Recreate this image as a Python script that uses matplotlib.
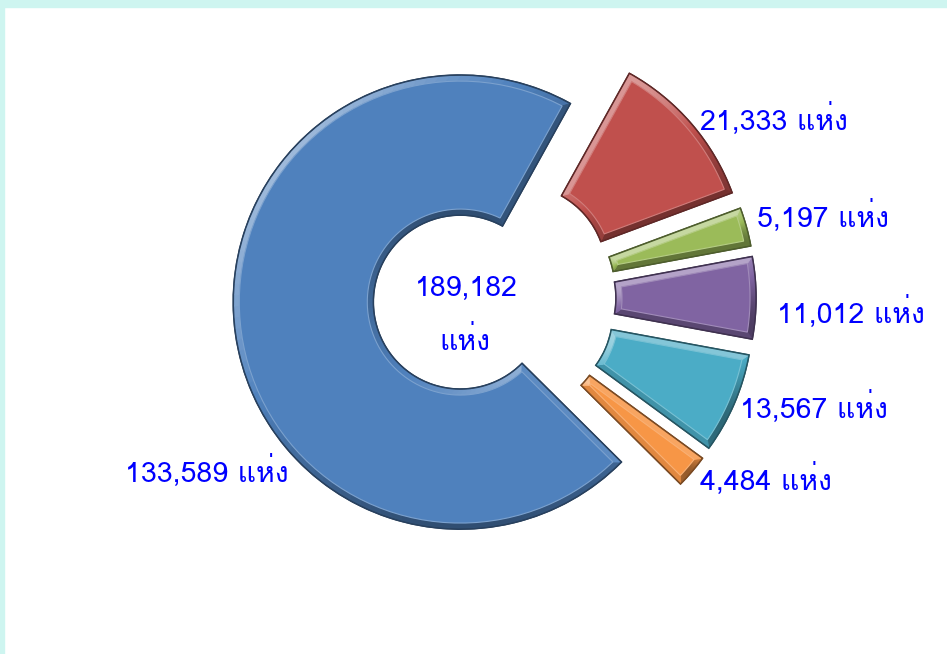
import matplotlib
matplotlib.use("Agg")
import numpy as np
import matplotlib.pyplot as plt
from matplotlib.patches import Polygon, Rectangle
from matplotlib.collections import PolyCollection
from matplotlib.colors import to_rgb

plt.rcParams['font.family'] = ['Loma', 'Noto Sans Thai Looped', 'DejaVu Sans']

# ---- data ----
categories = ["A", "B", "C", "D", "E", "F"]
values = [133589, 4484, 13567, 11012, 5197, 21333]
labels = ["133,589 แห่ง", "4,484 แห่ง", "13,567 แห่ง", "11,012 แห่ง", "5,197 แห่ง", "21,333 แห่ง"]
total_label = "189,182"
unit = "แห่ง"

# ---- style ----
colors = ["#4F81BD", "#F79646", "#4BACC6", "#8064A2", "#9BBB59", "#C0504D"]
explode = [29, 40, 40, 40, 40, 40]
label_pos = [(125, 482), (700, 490), (740, 418), (777, 323), (757, 227), (700, 130)]  # pixel, left/baseline

W, H = 947, 654
fig = plt.figure(figsize=(W / 100, H / 100), dpi=100)
ax = fig.add_axes([0, 0, 1, 1])

# border strips
fig.patches.append(Rectangle((0, 1 - 7 / H), 1, 7 / H, transform=fig.transFigure,
                             color="#CEF5F0", zorder=0))
fig.patches.append(Rectangle((0, 0), 4 / W, 1, transform=fig.transFigure,
                             color="#CEF5F0", zorder=0))

R = 227
r_in = 87
cx, cy = 489, 298

# y axis is inverted, so counterclock=False gives visual counter-clockwise order
wedges, _ = ax.pie(values, radius=R, center=(cx, cy), startangle=-61,
                   counterclock=False, explode=explode, colors=colors,
                   wedgeprops=dict(width=R - r_in, linewidth=0), frame=True)
ax.set_xlim(0, W)
ax.set_ylim(H, 0)
ax.set_aspect("equal")
ax.axis("off")


def mix(c, other, t):
    a = np.array(to_rgb(c))
    b = np.array(to_rgb(other))
    return tuple(a * (1 - t) + b * t)


N = 90


def inset_poly(center, r_o, r_i, t1, t2, d):
    ro = r_o - d
    ri = r_i + d
    a_o = np.degrees(np.arcsin(min(d / ro, 0.99)))
    a_i = np.degrees(np.arcsin(min(d / ri, 0.99)))
    th_o = np.radians(np.linspace(t1 + a_o, t2 - a_o, N))
    th_i = np.radians(np.linspace(t2 - a_i, t1 + a_i, N))
    xo = center[0] + ro * np.cos(th_o)
    yo = center[1] + ro * np.sin(th_o)
    xi = center[0] + ri * np.cos(th_i)
    yi = center[1] + ri * np.sin(th_i)
    return np.column_stack([np.r_[xo, xi], np.r_[yo, yi]])


light = np.array([-0.55, -0.83])  # towards upper-left (data y is downwards)
BEVEL = 6

for w, c in zip(wedges, colors):
    center = w.center
    t1, t2 = w.theta1, w.theta2
    ro = w.r
    ri = w.r - w.width
    w.set_facecolor(c)
    w.set_edgecolor(mix(c, "black", 0.55))
    w.set_linewidth(1.2)
    w.set_zorder(2)
    P0 = inset_poly(center, ro, ri, t1, t2, 0.8)
    P1 = inset_poly(center, ro, ri, t1, t2, BEVEL)
    quads, fcs = [], []
    n = len(P0)
    for i in range(n):
        j = (i + 1) % n
        q = [P0[i], P0[j], P1[j], P1[i]]
        m0 = (P0[i] + P0[j]) / 2
        m1 = (P1[i] + P1[j]) / 2
        nv = m0 - m1
        nn = np.linalg.norm(nv)
        if nn == 0:
            continue
        nv = nv / nn
        s = float(np.dot(nv, light))
        if s >= 0:
            fc = mix(c, "white", 0.45 * s)
        else:
            fc = mix(c, "black", 0.40 * (-s))
        quads.append(q)
        fcs.append(fc)
    pc = PolyCollection(quads, facecolors=fcs, edgecolors=fcs, linewidths=0.6, zorder=3)
    ax.add_collection(pc)
    # inner face with soft highlight line
    face = Polygon(P1, closed=True, facecolor=c, edgecolor=mix(c, "white", 0.25),
                   linewidth=0.8, zorder=4)
    ax.add_patch(face)
    # outline on top
    outline = Polygon(inset_poly(center, ro, ri, t1, t2, 0.0), closed=True, fill=False,
                      edgecolor=mix(c, "black", 0.5), linewidth=1.0, zorder=5)
    ax.add_patch(outline)

for lab, (x, y) in zip(labels, label_pos):
    ax.text(x, y, lab, ha="left", va="baseline", color="#0000FF", fontsize=20.5, zorder=10)

ax.text(466, 296, total_label, ha="center", va="baseline", color="#0000FF", fontsize=20.5, zorder=10)
ax.text(465, 350, unit, ha="center", va="baseline", color="#0000FF", fontsize=20.5, zorder=10)

fig.savefig("out.png", dpi=100)
